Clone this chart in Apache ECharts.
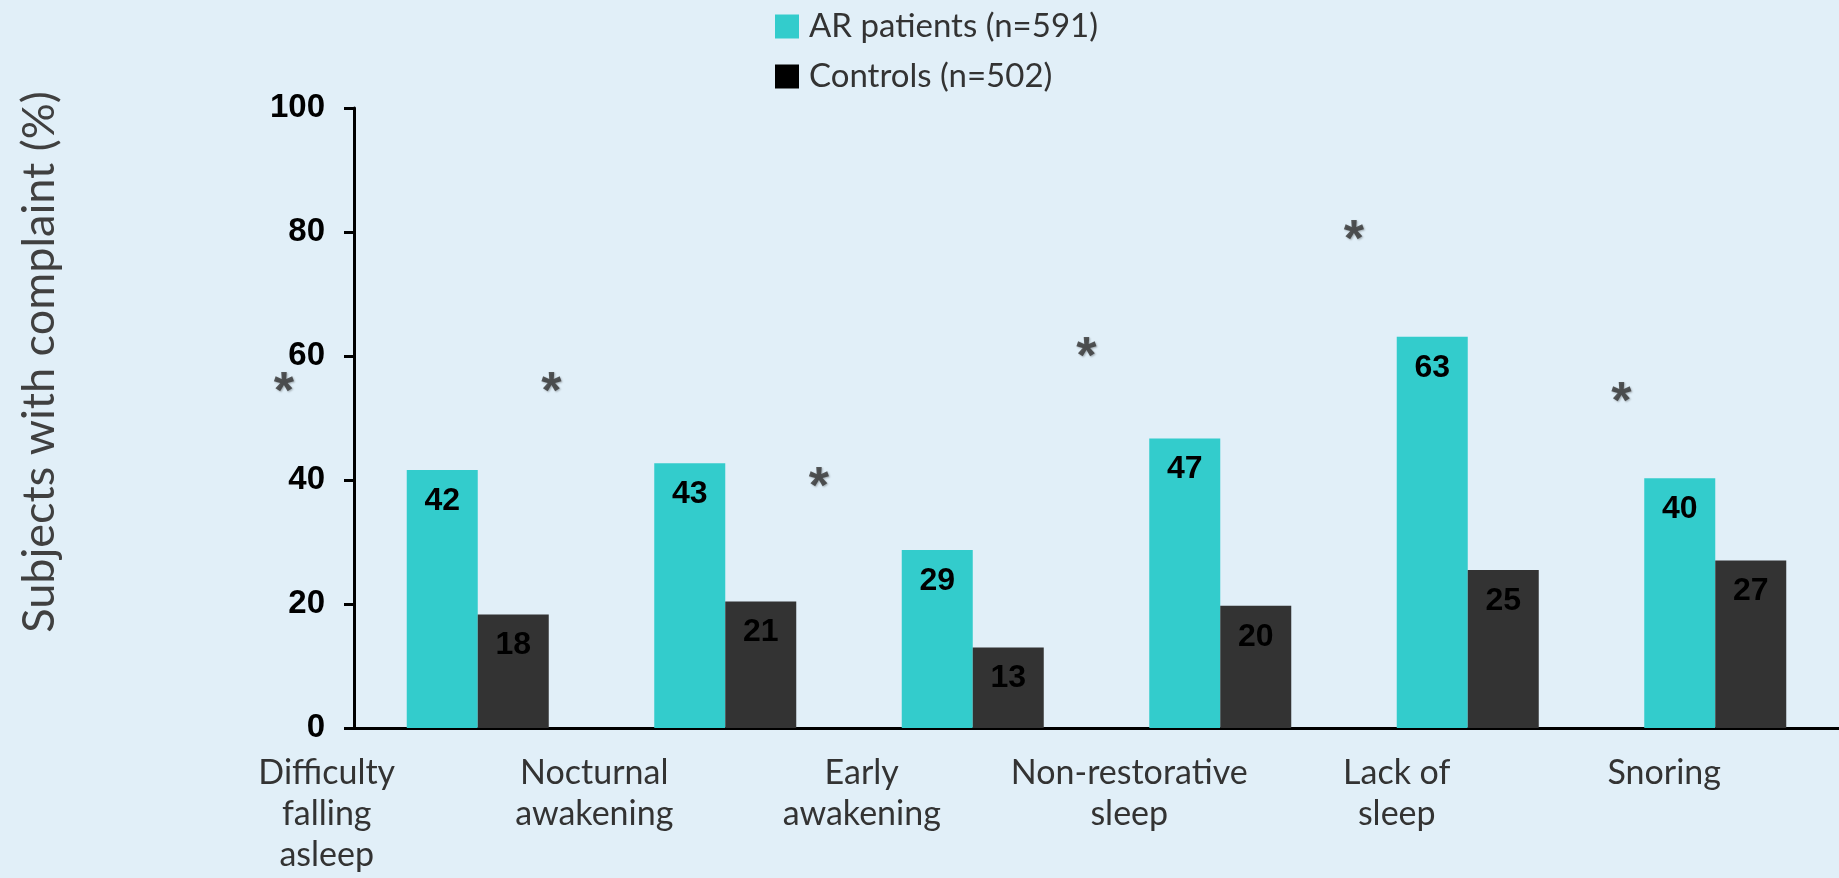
<!DOCTYPE html>
<html>
<head>
<meta charset="utf-8">
<title>Sleep complaints</title>
<script src="https://cdn.jsdelivr.net/npm/echarts@6/dist/echarts.min.js"></script>
<style>
  html, body { margin: 0; padding: 0; background: #e1eff8; }
  #chart { width: 1839px; height: 878px; }
</style>
</head>
<body>
<div id="chart"></div>
<script>
let categories = ['Difficulty\nfalling\nasleep', 'Nocturnal\nawakening', 'Early\nawakening', 'Non-restorative\nsleep', 'Lack of\nsleep', 'Snoring'];
let arPatients = [41.6, 42.7, 28.7, 46.7, 63.1, 40.3];
let arLabels = ['42', '43', '29', '47', '63', '40'];
let controls = [18.3, 20.4, 13.0, 19.7, 25.5, 27.0];
let controlLabels = ['18', '21', '13', '20', '25', '27'];
// significance stars, y in %
let starY = [55.6, 55.6, 40.2, 61.2, 80, 54];
let yTicks = [0, 20, 40, 60, 80, 100];

let seriesNames = ['AR patients (n=591)', 'Controls (n=502)'];

let chart = echarts.init(document.getElementById('chart'));

let barLabel = {
    show: true,
    position: 'insideTop',
    distance: 15,
    color: '#000',
    fontFamily: 'Liberation Sans',
    fontWeight: 'bold',
    fontSize: 32
};

let option = {
    backgroundColor: '#e1eff8',
    animation: false,
    legend: {
        orient: 'vertical',
        left: 775,
        top: 10,
        padding: 0,
        icon: 'rect',
        itemWidth: 24,
        itemHeight: 24,
        itemGap: 17,
        textStyle: {
            fontFamily: 'Lato',
            fontSize: 33,
            lineHeight: 33,
            color: '#333',
            padding: [0, 0, 0, 5]
        },
        data: [
            { name: seriesNames[0] },
            { name: seriesNames[1], itemStyle: { color: '#000' } }
        ]
    },
    grid: [
        { left: 354, right: -6, top: 108, bottom: 150 },
        // second grid only carries the category text and stars
        { left: 193, right: 41, top: 108, bottom: 150 }
    ],
    xAxis: [
        {
            type: 'category',
            gridIndex: 0,
            data: categories,
            axisLine: { lineStyle: { color: '#000', width: 3 } },
            axisTick: { show: false },
            axisLabel: { show: false }
        },
        {
            type: 'category',
            gridIndex: 1,
            data: categories,
            axisLine: { show: false },
            axisTick: { show: false },
            axisLabel: {
                interval: 0,
                margin: 25,
                fontFamily: 'Lato',
                fontSize: 34,
                lineHeight: 41,
                color: '#333'
            }
        }
    ],
    yAxis: [
        {
            type: 'value',
            gridIndex: 0,
            min: yTicks[0],
            max: yTicks[yTicks.length - 1],
            interval: yTicks[1] - yTicks[0],
            name: 'Subjects with complaint (%)',
            nameLocation: 'middle',
            nameRotate: 90,
            nameGap: 292,
            nameTextStyle: {
                fontFamily: 'Lato',
                fontSize: 45,
                color: '#404040',
                padding: [0, 0, 0, 112]
            },
            axisLine: { show: true, lineStyle: { color: '#000', width: 3 } },
            axisTick: { show: true, length: 10, lineStyle: { color: '#000', width: 3 } },
            splitLine: { show: false },
            axisLabel: {
                margin: 29,
                color: '#000',
                fontFamily: 'Liberation Sans',
                fontWeight: 'bold',
                fontSize: 33
            }
        },
        {
            type: 'value',
            gridIndex: 1,
            min: yTicks[0],
            max: yTicks[yTicks.length - 1],
            show: false
        }
    ],
    series: [
        {
            name: seriesNames[0],
            type: 'bar',
            xAxisIndex: 0,
            yAxisIndex: 0,
            data: arPatients,
            barWidth: 71,
            barGap: '0%',
            itemStyle: { color: '#33cccc' },
            label: Object.assign({}, barLabel, {
                formatter: function (p) { return arLabels[p.dataIndex]; }
            })
        },
        {
            name: seriesNames[1],
            type: 'bar',
            xAxisIndex: 0,
            yAxisIndex: 0,
            data: controls,
            barWidth: 71,
            barGap: '0%',
            itemStyle: { color: '#333333' },
            label: Object.assign({}, barLabel, {
                formatter: function (p) { return controlLabels[p.dataIndex]; }
            })
        },
        {
            name: 'stars',
            type: 'scatter',
            xAxisIndex: 1,
            yAxisIndex: 1,
            data: starY,
            symbolSize: 1,
            itemStyle: { color: 'transparent' },
            silent: true,
            label: {
                show: true,
                position: 'inside',
                offset: [-43, 10],
                formatter: '*',
                color: '#333',
                fontFamily: 'Liberation Sans',
                fontWeight: 'bold',
                fontSize: 52,
                textShadowColor: 'rgba(0,0,0,0.35)',
                textShadowBlur: 2,
                textShadowOffsetX: 1,
                textShadowOffsetY: 1
            }
        }
    ]
};

chart.setOption(option);
</script>
</body>
</html>
